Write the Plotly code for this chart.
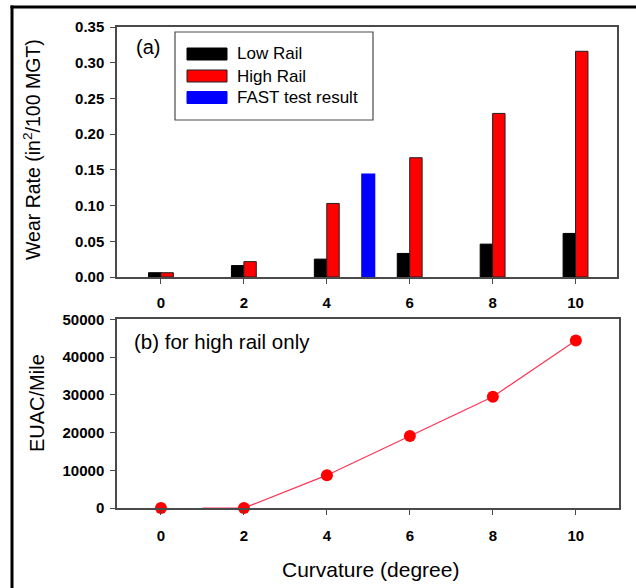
import plotly.graph_objects as go

# ---- data ----
curvature = [0, 2, 4, 6, 8, 10]
low_rail = [0.006, 0.016, 0.025, 0.033, 0.046, 0.061]
high_rail = [0.006, 0.0215, 0.103, 0.167, 0.229, 0.316]
fast_x = [5]
fast_val = [0.145]

euac_x = [0, 2, 4, 6, 8, 10]
euac = [0, 0, 8700, 19100, 29500, 44400]
euac_line_x = [1, 2, 4, 6, 8, 10]
euac_line_y = [0, 0, 8700, 19100, 29500, 44400]

x_ticks = [0, 2, 4, 6, 8, 10]
wear_ticks = [0, 0.05, 0.10, 0.15, 0.20, 0.25, 0.30, 0.35]
euac_ticks = [0, 10000, 20000, 30000, 40000, 50000]

W, H = 636, 588
FONT = "Liberation Sans"
AX = "#4a4a4a"

def px(x):
    return x / W

def py(y):
    return 1 - y / H

fig = go.Figure()

fig.add_trace(go.Bar(x=curvature, y=low_rail, name="Low Rail", width=0.3, offset=-0.3,
                     marker=dict(color="black", line=dict(color="black", width=1)),
                     xaxis="x", yaxis="y", showlegend=False))
fig.add_trace(go.Bar(x=curvature, y=high_rail, name="High Rail", width=0.3, offset=0,
                     marker=dict(color="#ff0000", line=dict(color="#222", width=1)),
                     xaxis="x", yaxis="y", showlegend=False))
fig.add_trace(go.Bar(x=fast_x, y=fast_val, name="FAST test result", width=0.34, offset=-0.17,
                     marker=dict(color="#0000ff", line=dict(width=0)),
                     xaxis="x", yaxis="y", showlegend=False))

fig.add_trace(go.Scatter(x=euac_line_x, y=euac_line_y, mode="lines",
                         line=dict(color="#ff3355", width=1.2),
                         xaxis="x2", yaxis="y2", showlegend=False, cliponaxis=False))
fig.add_trace(go.Scatter(x=euac_x, y=euac, mode="markers",
                         marker=dict(color="#ff0000", size=12),
                         xaxis="x2", yaxis="y2", showlegend=False, cliponaxis=False))

tickfont = dict(family=FONT, size=15, color="black", weight="bold")
common = dict(showgrid=False, zeroline=False, showline=True, linecolor=AX, linewidth=1.5,
              mirror=True, ticks="outside", ticklen=5, tickwidth=1.2, tickcolor=AX,
              tickfont=tickfont, automargin=False)

fig.update_layout(
    template="none",
    width=W, height=H,
    margin=dict(l=0, r=0, t=0, b=0, pad=0),
    paper_bgcolor="white", plot_bgcolor="white",
    barmode="overlay",
    xaxis=dict(domain=[px(117), px(617)], range=[-1.06, 11.0], tickvals=x_ticks,
               anchor="y", ticklabelstandoff=6, **common),
    yaxis=dict(domain=[py(277), py(27)], range=[0, 0.35], tickvals=wear_ticks,
               tickformat=".2f", anchor="x", ticklabelstandoff=3, **common),
    xaxis2=dict(domain=[px(117), px(619)], range=[-1.06, 11.04], tickvals=x_ticks,
                anchor="y2", ticklabelstandoff=8, **common),
    yaxis2=dict(domain=[py(508), py(319.3)], range=[0, 50000], tickvals=euac_ticks,
                tickformat="d", anchor="x2", ticklabelstandoff=3, **common),
)

def note(text, x, y, size, xanchor="center", angle=0):
    return dict(text=text, x=px(x), y=py(y), xref="paper", yref="paper", xanchor=xanchor,
                yanchor="middle", showarrow=False, textangle=angle,
                font=dict(family=FONT, size=size, color="black"))

ann = [
    note("Wear Rate (in<sup>2</sup>/100 MGT)", 32, 150, 19.5, angle=-90),
    note("EUAC/Mile", 37, 403, 20, angle=-90),
    note("Curvature (degree)", 370, 569, 21),
    note("(a)", 134, 47, 20, xanchor="left"),
    note("(b) for high rail only", 132, 341, 20.5, xanchor="left"),
]

shapes = []
# outer frame (left and top edges visible)
shapes.append(dict(type="line", xref="paper", yref="paper", x0=px(12), x1=px(12), y0=py(5.5), y1=py(600),
                   line=dict(color="black", width=3)))
shapes.append(dict(type="line", xref="paper", yref="paper", x0=px(10.5), x1=px(640), y0=py(7), y1=py(7),
                   line=dict(color="black", width=3)))
# legend box
shapes.append(dict(type="rect", xref="paper", yref="paper", x0=px(175), x1=px(373), y0=py(32), y1=py(120),
                   line=dict(color=AX, width=1.2), fillcolor="white"))
leg_names = ["Low Rail", "High Rail", "FAST test result"]
leg_colors = ["black", "#ff0000", "#0000ff"]
leg_lines = ["black", "#222", "#0000ff"]
leg_y = [54, 76, 97.5]
for name, c, lc, yc in zip(leg_names, leg_colors, leg_lines, leg_y):
    shapes.append(dict(type="rect", xref="paper", yref="paper", x0=px(187), x1=px(227),
                       y0=py(yc - 6), y1=py(yc + 6), fillcolor=c, line=dict(color=lc, width=1)))
    ann.append(note(name, 235, yc, 17, xanchor="left"))

fig.update_layout(annotations=ann, shapes=shapes)

fig.write_html("out.html", config={"displayModeBar": False},
               post_script="document.body.style.margin='0px';document.body.style.overflow='hidden';")
